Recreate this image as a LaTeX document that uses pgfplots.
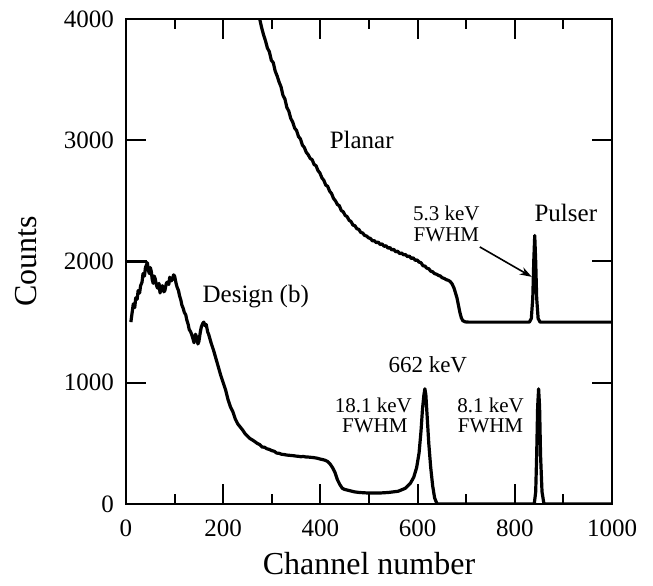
\documentclass[border=0pt]{standalone}
\usepackage{pgfplots}
\pgfplotsset{compat=1.18}
\usepackage{fontspec}
\setmainfont{Liberation Serif}
\usetikzlibrary{arrows.meta}
\begin{document}
\begin{tikzpicture}
\begin{axis}[
  name=ax,
  scale only axis,
  width=243pt, height=242.5pt,
  xmin=0, xmax=1000, ymin=0, ymax=4000,
  xtick={0,200,...,1000},
  minor xtick={100,300,...,900},
  ytick={0,1000,...,4000},
  xtick pos=both, ytick pos=both,
  xticklabel pos=left, yticklabel pos=left,
  tick align=inside,
  major tick length=10pt, minor tick length=5pt,
  every tick/.style={black, line width=1pt},
  axis line style={line width=1pt},
  scaled ticks=false,
  /pgf/number format/1000 sep={},
  /pgf/number format/assume math mode=true,
  tick label style={font=\fontsize{12.5}{15}\selectfont},
  xticklabel style={anchor=north, yshift=-4.5pt},
  yticklabel style={anchor=east, xshift=-2.5pt},
  xlabel={Channel number},
  ylabel={Counts},
  label style={font=\fontsize{16}{19}\selectfont},
  xlabel style={at={(axis description cs:0.5,-0.1464)}, anchor=base},
  ylabel style={at={(axis description cs:-0.2058,0.5)}, anchor=center},
]
% Planar
\addplot[black, line width=1.6pt, line join=round] coordinates {
(268,4150)(274,4020)(279,3930)(283,3870)(287,3820)(291,3760)(295,3730)(299,3660)
(303,3640)(307,3570)(311,3530)(315,3480)(319,3440)(323,3370)(327,3340)(331,3270)
(335,3240)(339,3180)(343,3150)(347,3100)(351,3080)(355,3030)(359,3010)(363,2960)
(367,2940)(371,2900)(375,2880)(379,2850)(383,2840)(387,2800)(391,2790)(395,2750)
(399,2730)(403,2690)(407,2670)(411,2630)(415,2620)(419,2580)(423,2560)(427,2520)
(431,2500)(435,2470)(439,2460)(443,2420)(447,2410)(451,2380)(455,2370)(459,2340)
(463,2330)(467,2300)(471,2295)(475,2270)(479,2265)(483,2240)(487,2235)(491,2215)
(495,2210)(499,2195)(503,2190)(507,2170)(511,2172)(515,2155)(519,2160)(523,2140)
(527,2145)(531,2125)(535,2130)(539,2110)(543,2115)(547,2095)(551,2100)(555,2080)
(559,2085)(563,2065)(567,2070)(571,2055)(575,2058)(579,2040)(583,2045)(587,2025)
(591,2030)(595,2010)(599,2012)(603,1995)(607,1990)(611,1965)(615,1962)(619,1945)
(623,1940)(627,1920)(631,1915)(635,1900)(639,1895)(643,1885)(647,1880)(651,1865)
(655,1860)(659,1850)(663,1845)(667,1835)(671,1815)(675,1780)(678,1740)(681,1700)
(684,1640)(687,1580)(690,1535)(693,1512)(698,1502)(705,1500)(830,1500)(834,1530)
(837,1700)(839,2000)(841,2215)(843,2000)(845,1700)(848,1530)(852,1500)(1000,1500)
};
% Design (b)
\addplot[black, line width=1.6pt, line join=round] coordinates {
(10,1500)(12,1560)(15,1650)(18,1620)(20,1700)(23,1690)(25,1760)(28,1740)(30,1800)
(33,1830)(35,1900)(38,1880)(40,1950)(44,1990)(46,1930)
(48,1900)(50,1950)(52,1920)(54,1850)(56,1820)(58,1880)(60,1860)(63,1800)(65,1780)
(68,1820)(70,1740)(73,1790)(75,1800)(78,1750)(80,1760)(83,1820)(85,1830)(88,1810)
(90,1870)(93,1840)(95,1850)(98,1890)(100,1880)(103,1820)(105,1790)(108,1760)
(110,1720)(113,1680)(115,1640)(118,1610)(120,1580)(123,1560)(125,1520)(128,1480)
(130,1440)(133,1420)(135,1400)(138,1360)(140,1330)(143,1400)(145,1380)(148,1320)
(150,1340)(153,1420)(155,1460)(158,1490)(160,1500)(163,1470)(165,1480)(168,1420)
(170,1400)(175,1330)(180,1270)(185,1200)(190,1130)(195,1060)(200,1000)(205,940)
(210,860)(215,800)(220,760)(225,700)(230,660)(235,635)(240,610)(245,580)(250,560)
(255,540)(260,528)(265,515)(270,500)(275,490)(280,470)(285,468)(290,455)(295,450)
(300,440)(305,435)(310,420)(315,418)(320,410)(325,408)(330,404)(335,402)(340,400)
(345,398)(350,395)(355,393)(360,390)(365,392)(370,388)(375,387)(380,385)(385,383)
(390,380)(395,376)(400,370)(405,366)(410,360)(415,350)(420,330)(425,300)(430,260)
(435,200)(440,160)(445,130)(450,120)(460,110)(470,100)(480,95)(500,90)(520,90)
(540,95)(560,105)(575,130)(585,170)(592,220)(598,300)(603,420)(607,600)(610,780)
(613,900)(615,950)(617,900)(620,700)(623,500)(627,300)(631,150)(635,50)(640,0)
(840,0)(843,100)(845,400)(847,800)(849,950)(851,800)(853,400)(856,100)(860,0)(1000,0)
};
\addplot[black, line width=1.5pt] coordinates {(0,2000)(43,2000)};
% annotations
\node[font=\fontsize{12.5}{15}\selectfont] at (axis cs:485,3000) {Planar};
\node[font=\fontsize{12.5}{15}\selectfont] at (axis cs:267,1710) {Design (b)};
\node[font=\fontsize{12.5}{15}\selectfont] at (axis cs:905,2400) {Pulser};
\node[font=\fontsize{11.5}{14}\selectfont] at (axis cs:621,1147) {662 keV};
\node[font=\fontsize{10.5}{12}\selectfont] at (axis cs:659,2400) {5.3 keV};
\node[font=\fontsize{10.5}{12}\selectfont] at (axis cs:659,2220) {FWHM};
\node[font=\fontsize{10.5}{12}\selectfont] at (axis cs:509,817) {18.1 keV};
\node[font=\fontsize{10.5}{12}\selectfont] at (axis cs:512,644) {FWHM};
\node[font=\fontsize{10.5}{12}\selectfont] at (axis cs:750,817) {8.1 keV};
\node[font=\fontsize{10.5}{12}\selectfont] at (axis cs:750,644) {FWHM};
\draw[line width=0.8pt, -{Stealth[length=6pt,width=4pt]}] (axis cs:728,2120) -- (axis cs:835,1873);
\end{axis}
\path ([xshift=-63pt,yshift=-41pt]ax.south west) rectangle ([xshift=20.5pt,yshift=9.5pt]ax.north east);
\end{tikzpicture}
\end{document}
